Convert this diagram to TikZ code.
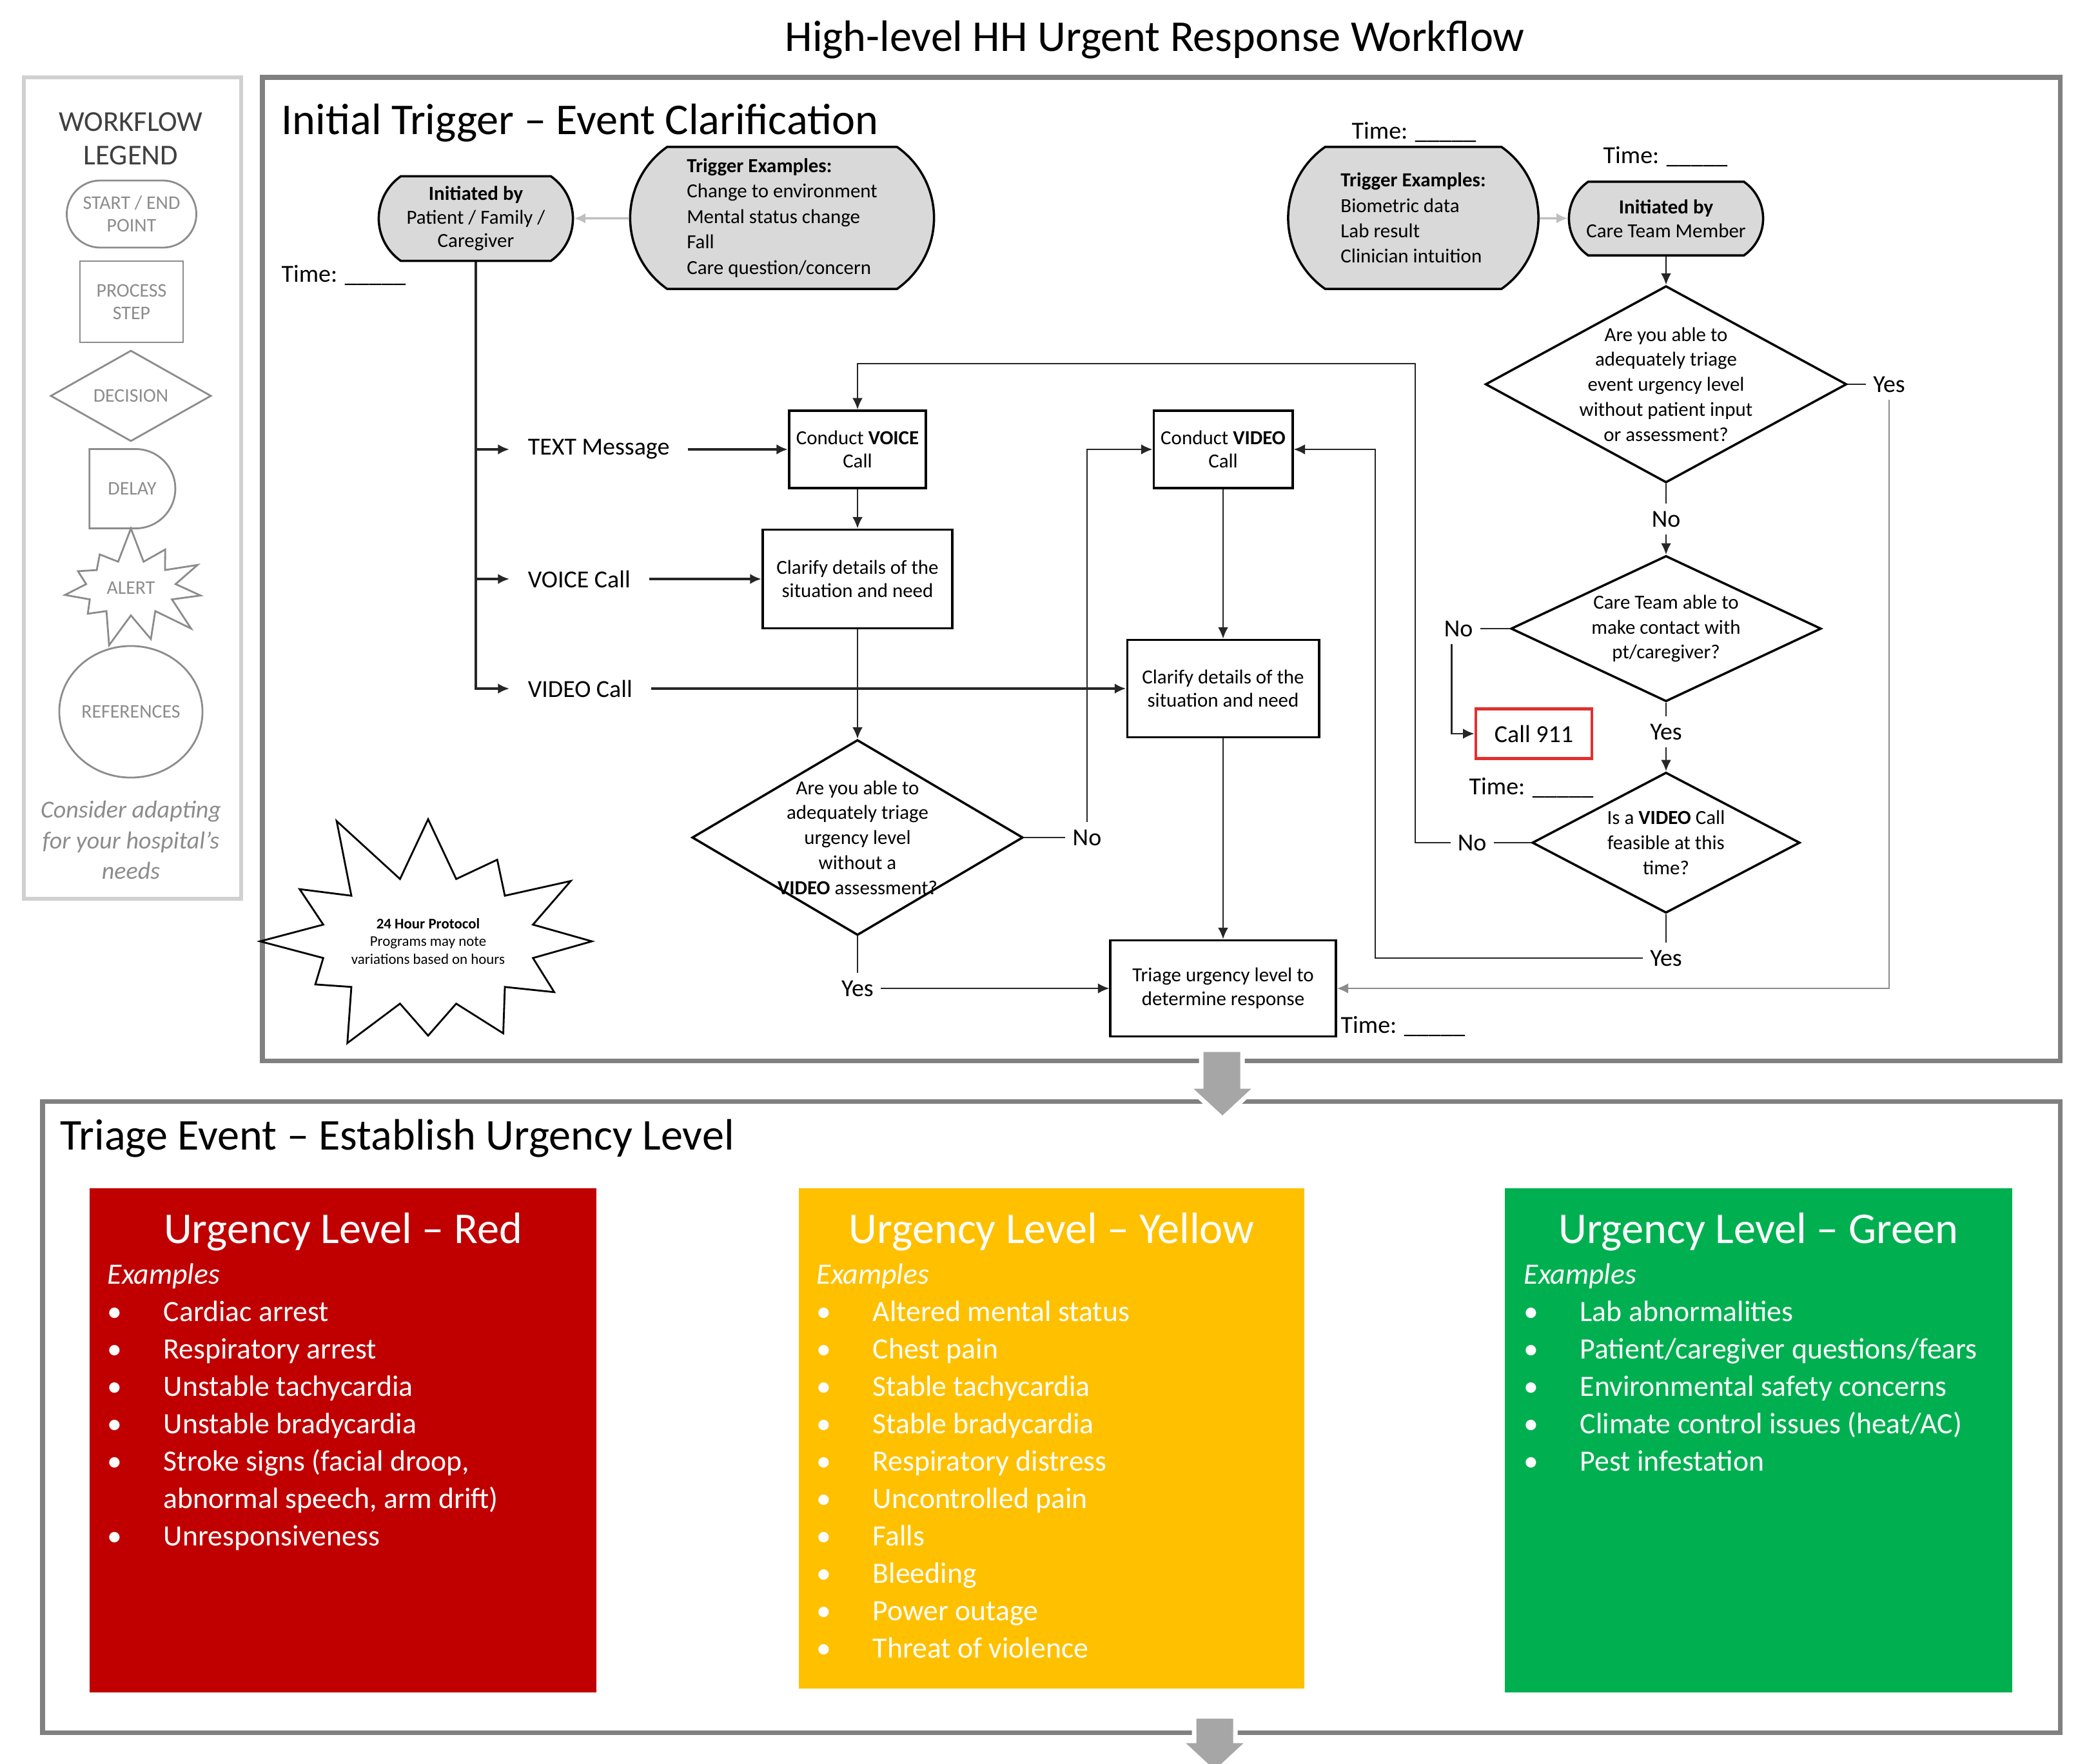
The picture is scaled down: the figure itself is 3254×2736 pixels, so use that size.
\documentclass[tikz,border=0pt]{standalone}
\usepackage{fontspec}
\setmainfont{Carlito}
\usetikzlibrary{arrows.meta,shapes.geometric,shapes.misc,shapes.symbols}

\definecolor{lvlred}{HTML}{C00000}
\definecolor{lvlyellow}{HTML}{FFC000}
\definecolor{lvlgreen}{HTML}{00B050}
\definecolor{startfill}{HTML}{D9D9D9}
\definecolor{framegray}{HTML}{808080}
\definecolor{legendline}{HTML}{D0D0D0}
\definecolor{legendink}{HTML}{8C8C8C}
\definecolor{blockarrow}{HTML}{A6A6A6}
\definecolor{callred}{HTML}{E03030}

\newcommand{\smallfont}{\fontsize{8.8}{10.4}\selectfont}
\newcommand{\lblfont}{\fontsize{10.8}{13}\selectfont}
\newcommand{\headfont}{\fontsize{19.4}{23}\selectfont}
\newcommand{\lvlfont}{\fontsize{13}{16.5}\selectfont}
\newcommand{\lvlitem}[1]{\makebox[0.87cm][l]{\textbullet}#1}

\tikzset{
  startend/.style={rounded rectangle, rounded rectangle arc length=110, draw, line width=1pt,
    fill=startfill, align=center, inner sep=0pt, font=\smallfont},
  procbox/.style={rectangle, draw, line width=1.1pt, align=center, inner sep=0pt, font=\smallfont},
  decision/.style={diamond, draw, line width=1pt, align=center, inner sep=-0.5cm,
    shape aspect=1.8, font=\fontsize{8.8}{11}\selectfont},
  lbl/.style={inner sep=8pt, anchor=west, font=\lblfont},
  yesno/.style={inner sep=3pt, font=\lblfont},
  timelbl/.style={inner sep=0pt, anchor=west, font=\lblfont},
  flow/.style={->, line width=0.6pt, black!85},
  flowthick/.style={->, line width=1.3pt, black!85},
  plain/.style={line width=0.6pt, black!85},
  cue/.style={->, line width=1pt, black!25},
  legshape/.style={draw=legendink, line width=0.8pt, align=center, inner sep=0pt,
    text=legendink, font=\fontsize{8.5}{10}\selectfont},
  alertburst/.style={starburst, draw, line width=0.8pt, align=center, inner sep=0pt},
  frame/.style={draw=framegray, line width=2pt},
  lvlhead/.style={text=white, font=\headfont},
  lvllist/.style={text=white, align=left, anchor=north west, inner sep=0pt, font=\lvlfont},
}

\begin{document}
\begin{tikzpicture}[x=0.01cm,y=-0.01cm,>={Latex[length=5pt,width=4.5pt]}]
\useasboundingbox (0,0) rectangle (3254,2736);

\node[font=\headfont] (title) at (1791,62) {High-level HH Urgent Response Workflow};

% legend
\draw[draw=legendline, line width=1.8pt] (37,120) rectangle (374,1394);
\node[align=center, text=black!75, font=\fontsize{12.7}{14.7}\selectfont] (legtitle) at (203,215) {WORKFLOW\\LEGEND};
\node[legshape, rounded rectangle, minimum width=2.01cm, minimum height=1.04cm] (legstart) at (204,332) {START / END\\POINT};
\node[legshape, rectangle, minimum width=1.6cm, minimum height=1.26cm] (legproc) at (204,468) {PROCESS\\STEP};
\node[legshape, diamond, inner sep=-0.5cm, minimum width=2.49cm, minimum height=1.41cm] (legdec) at (203,614) {DECISION};
\node[legshape, rounded rectangle, rounded rectangle west arc=none, minimum width=1.33cm, minimum height=1.23cm] (legdelay) at (205,758) {DELAY};
\node[legshape, starburst, starburst points=11, starburst point height=0.55cm, random starburst=7, minimum width=2.5cm, minimum height=1.95cm] (legalert) at (203,912) {ALERT};
\node[legshape, ellipse, minimum width=2.22cm, minimum height=2.04cm] (legref) at (203,1104) {REFERENCES};
\node[align=center, text=legendink, font=\itshape\fontsize{10.8}{13.6}\selectfont] (legnote) at (203,1303) {Consider adapting\\for your hospital's\\needs};

% initial trigger
\draw[frame] (407,120) rectangle (3195,1645);
\node[anchor=west, inner sep=0pt, font=\headfont] (inittitle) at (436,191) {Initial Trigger -- Event Clarification};

\node[startend, minimum width=3.01cm, minimum height=1.31cm] (initpt) at (738,339) {\textbf{Initiated by}\\Patient / Family /\\Caregiver};
\node[startend, align=left, minimum width=4.71cm, minimum height=2.2cm, font=\fontsize{8.8}{11.2}\selectfont] (trigpt) at (1213,338) {\textbf{Trigger Examples:}\\Change to environment\\Mental status change\\Fall\\Care question/concern};
\draw[cue] (trigpt) -- (initpt);
\node[timelbl] (timept) at (436,427) {Time: \_\_\_\_\_};

\node[lbl] (textmsg) at (790,697) {TEXT Message};
\node[lbl] (voicemsg) at (790,898) {VOICE Call};
\node[lbl] (videomsg) at (790,1068) {VIDEO Call};
\draw[flow, line width=0.9pt] (initpt.south) |- (videomsg.west);
\draw[flow, line width=0.9pt] (initpt.south |- textmsg.west) -- (textmsg.west);
\draw[flow, line width=0.9pt] (initpt.south |- voicemsg.west) -- (voicemsg.west);

\node[procbox, minimum width=2.12cm, minimum height=1.2cm] (voicecall) at (1330,697) {Conduct \textbf{VOICE}\\Call};
\node[procbox, minimum width=2.94cm, minimum height=1.53cm] (clarvoice) at (1330,898) {Clarify details of the\\situation and need};
\node[decision, minimum width=5.13cm, minimum height=3.03cm] (askvideo) at (1330,1299) {Are you able to\\adequately triage\\urgency level\\without a\\\textbf{VIDEO} assessment?};
\draw[flowthick] (textmsg) -- (voicecall);
\draw[flowthick] (voicemsg) -- (clarvoice);
\draw[flow] (voicecall) -- (clarvoice);
\draw[flow] (clarvoice) -- (askvideo);

\node[procbox, minimum width=2.15cm, minimum height=1.2cm] (videocall) at (1897,697) {Conduct \textbf{VIDEO}\\Call};
\node[procbox, minimum width=2.97cm, minimum height=1.51cm] (clarvideo) at (1897,1068) {Clarify details of the\\situation and need};
\node[procbox, minimum width=3.49cm, minimum height=1.49cm] (triage) at (1897,1533) {Triage urgency level to\\determine response};
\draw[flowthick] (videomsg) -- (clarvideo);
\draw[flow] (videocall) -- (clarvideo);
\draw[flow] (clarvideo) -- (triage);

\node[yesno] (novideo) at (1686,1299) {No};
\draw[plain] (askvideo.east) -- (novideo.west);
\draw[flow] (novideo.north) |- (videocall.west);
\node[yesno] (yesvideo) at (1330,1533) {Yes};
\draw[plain] (askvideo.south) -- (yesvideo.north);
\draw[flow] (yesvideo.east) -- (triage.west);
\node[timelbl] (timetriage) at (2079,1592) {Time: \_\_\_\_\_};

\node[alertburst, starburst points=12, starburst point height=1.2cm, random starburst=11, minimum width=3.6cm, minimum height=4.4cm, font=\fontsize{6.5}{7.7}\selectfont] (protocol) at (664,1460) {\textbf{24 Hour Protocol}\\Programs may note\\variations based on hours};

% care team side
\node[timelbl] (timect1) at (2096,205) {Time: \_\_\_\_\_};
\node[startend, align=left, minimum width=3.88cm, minimum height=2.2cm, font=\fontsize{8.8}{11.2}\selectfont] (trigct) at (2192,338) {\textbf{Trigger Examples:}\\Biometric data\\Lab result\\Clinician intuition};
\node[timelbl] (timect2) at (2486,243) {Time: \_\_\_\_\_};
\node[startend, minimum width=3.01cm, minimum height=1.14cm] (initct) at (2584,339) {\textbf{Initiated by}\\Care Team Member};
\draw[cue] (trigct) -- (initct);

\node[decision, minimum width=5.6cm, minimum height=3.05cm] (askpatient) at (2584,596) {Are you able to\\adequately triage\\event urgency level\\without patient input\\or assessment?};
\draw[flow] (initct) -- (askpatient);
\node[yesno] (yespatient) at (2930,596) {Yes};
\draw[plain] (askpatient.east) -- (yespatient.west);
\draw[flow, black!45] (yespatient.south) |- (triage.east);

\node[yesno] (nopatient) at (2584,805) {No};
\draw[plain] (askpatient.south) -- (nopatient.north);
\node[decision, minimum width=4.81cm, minimum height=2.26cm] (askcontact) at (2584,975) {Care Team able to\\make contact with\\pt/caregiver?};
\draw[flow] (nopatient.south) -- (askcontact.north);
\node[yesno] (nocontact) at (2262,975) {No};
\draw[plain] (askcontact.west) -- (nocontact.east);
\node[draw=callred, line width=1.3pt, minimum width=1.8cm, minimum height=0.77cm, font=\lblfont] (call911) at (2379,1138) {Call 911};
\draw[flow] ([xshift=-3pt]nocontact.south) |- (call911.west);

\node[yesno] (yescontact) at (2584,1135) {Yes};
\draw[plain] (askcontact.south) -- (yescontact.north);
\node[timelbl] (timect3) at (2278,1222) {Time: \_\_\_\_\_};
\node[decision, minimum width=4.15cm, minimum height=2.18cm] (askfeasible) at (2584,1307) {Is a \textbf{VIDEO} Call\\feasible at this\\time?};
\draw[flow] (yescontact.south) -- (askfeasible.north);
\node[yesno] (nofeasible) at (2283,1307) {No};
\draw[plain] (askfeasible.west) -- (nofeasible.east);
\coordinate (loopvoice) at (2195,564);
\draw[flow] (nofeasible.west) -| (loopvoice) -| (voicecall.north);
\node[yesno] (yesfeasible) at (2584,1486) {Yes};
\draw[plain] (askfeasible.south) -- (yesfeasible.north);
\coordinate (loopvideo) at (2133,1486);
\draw[flow] (yesfeasible.west) -- (loopvideo) |- (videocall.east);

% triage event
\draw[frame] (66,1708) rectangle (3195,2687);
\node[anchor=west, inner sep=0pt, font=\headfont] (triagetitle) at (93,1766) {Triage Event -- Establish Urgency Level};

\fill[lvlred] (139,1843) rectangle (925,2625);
\fill[lvlyellow] (1239,1843) rectangle (2023,2619);
\fill[lvlgreen] (2334,1843) rectangle (3121,2625);

\node[lvlhead] (redhead) at (532,1911) {Urgency Level -- Red};
\node[lvlhead] (yellowhead) at (1631,1911) {Urgency Level -- Yellow};
\node[lvlhead] (greenhead) at (2727,1911) {Urgency Level -- Green};

\node[lvllist] (redlist) at (166,1959) {\textit{Examples}\\
  \lvlitem{Cardiac arrest}\\
  \lvlitem{Respiratory arrest}\\
  \lvlitem{Unstable tachycardia}\\
  \lvlitem{Unstable bradycardia}\\
  \lvlitem{Stroke signs (facial droop,}\\
  \hspace*{0.87cm}abnormal speech, arm drift)\\
  \lvlitem{Unresponsiveness}};
\node[lvllist] (yellowlist) at (1266,1959) {\textit{Examples}\\
  \lvlitem{Altered mental status}\\
  \lvlitem{Chest pain}\\
  \lvlitem{Stable tachycardia}\\
  \lvlitem{Stable bradycardia}\\
  \lvlitem{Respiratory distress}\\
  \lvlitem{Uncontrolled pain}\\
  \lvlitem{Falls}\\
  \lvlitem{Bleeding}\\
  \lvlitem{Power outage}\\
  \lvlitem{Threat of violence}};
\node[lvllist] (greenlist) at (2363,1959) {\textit{Examples}\\
  \lvlitem{Lab abnormalities}\\
  \lvlitem{Patient/caregiver questions/fears}\\
  \lvlitem{Environmental safety concerns}\\
  \lvlitem{Climate control issues (heat/AC)}\\
  \lvlitem{Pest infestation}};

% block arrows between sections
\filldraw[fill=blockarrow, draw=white, line width=2pt] (1863,1628) -- (1927,1628) -- (1927,1685) -- (1950,1685) -- (1896,1735) -- (1842,1685) -- (1863,1685) -- cycle;
\filldraw[fill=blockarrow, draw=white, line width=2pt] (1852,2662) -- (1916,2662) -- (1916,2700) -- (1938,2700) -- (1884,2750) -- (1830,2700) -- (1852,2700) -- cycle;
\end{tikzpicture}
\end{document}
